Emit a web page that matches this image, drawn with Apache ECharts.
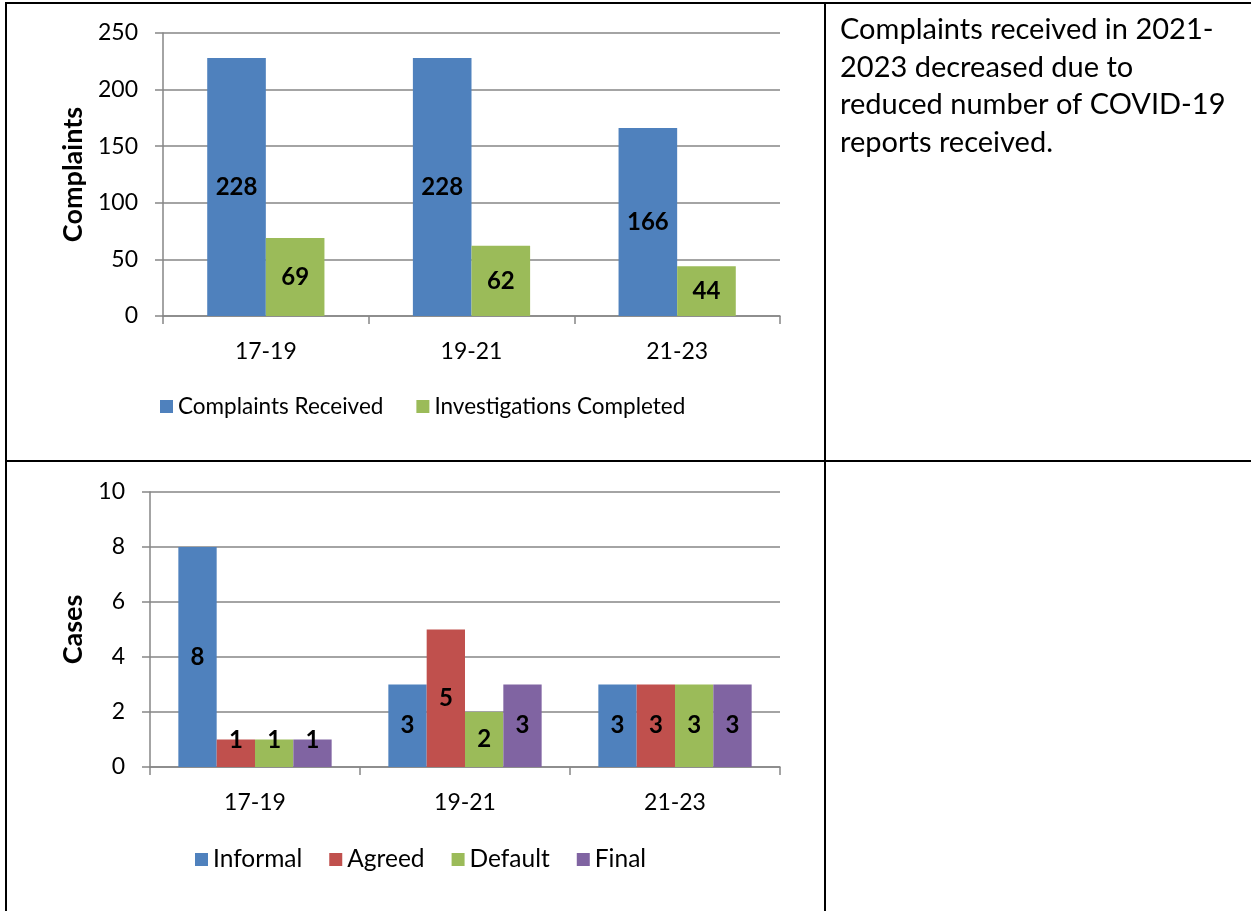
<!DOCTYPE html>
<html>
<head>
<meta charset="utf-8">
<script src="https://cdn.jsdelivr.net/npm/echarts@6/dist/echarts.min.js"></script>
<style>
  html, body { margin: 0; padding: 0; background: #fff; }
  #chart { width: 1251px; height: 911px; }
</style>
</head>
<body>
<div id="chart"></div>
<script>
// periods shared by both charts
const periods = ['17-19', '19-21', '21-23'];

// top chart
const complaintsTicks = [0, 50, 100, 150, 200, 250];
const complaintsReceived = [228, 228, 166];
const investigationsCompleted = [69, 62, 44];

// bottom chart
const casesTicks = [0, 2, 4, 6, 8, 10];
const informal = [8, 3, 3];
const agreed = [1, 5, 3];
const defaultCases = [1, 2, 3];
const finalCases = [1, 3, 3];

const noteLines = [
    'Complaints received in 2021-',
    '2023 decreased due to',
    'reduced number of COVID-19',
    'reports received.'
];

const FONT = 'Lato, "Noto Sans", sans-serif';
const GRAY = '#868686';
const colors = { blue: '#4F81BD', green: '#9BBB59', red: '#C0504D', purple: '#8064A2' };

const chart = echarts.init(document.getElementById('chart'));

function valueAxis(gridIndex, ticks, name, nameGap) {
    return {
        type: 'value',
        gridIndex,
        min: ticks[0],
        max: ticks[ticks.length - 1],
        interval: ticks[1] - ticks[0],
        name,
        nameLocation: 'middle',
        nameGap,
        nameTextStyle: { fontFamily: FONT, fontSize: 27, fontWeight: 'bold', color: '#000' },
        axisLine: { show: true, lineStyle: { color: GRAY, width: 1.5 } },
        axisTick: { show: true, length: 8, lineStyle: { color: GRAY, width: 1.5 } },
        axisLabel: { margin: 25, fontFamily: FONT, fontSize: 23, color: '#000' },
        splitLine: { lineStyle: { color: GRAY, width: 1.5 } }
    };
}

function catAxis(gridIndex) {
    return {
        type: 'category',
        gridIndex,
        data: periods,
        axisLine: { lineStyle: { color: GRAY, width: 1.5 } },
        axisTick: { show: true, length: 8, lineStyle: { color: GRAY, width: 1.5 } },
        axisLabel: { margin: 24, fontFamily: FONT, fontSize: 23, color: '#000' }
    };
}

const barLabel = { show: true, position: 'inside', fontFamily: FONT, fontSize: 24, fontWeight: 'bold', color: '#000' };

function bar(name, data, color, axisIdx, gap) {
    return {
        name,
        type: 'bar',
        xAxisIndex: axisIdx,
        yAxisIndex: axisIdx,
        // Excel lifts labels on very short bars
        data: data.map(v => (axisIdx === 1 && v < 2) ? { value: v, label: { offset: [0, -13] } } : v),
        barGap: 0,
        barCategoryGap: gap,
        itemStyle: { color },
        label: barLabel
    };
}

chart.setOption({
    animation: false,
    grid: [
        { left: 163, top: 33, right: 471, height: 283 },
        { left: 150, top: 492, right: 471, height: 275 }
    ],
    xAxis: [catAxis(0), catAxis(1)],
    yAxis: [
        valueAxis(0, complaintsTicks, 'Complaints', 76),
        valueAxis(1, casesTicks, 'Cases', 63)
    ],
    legend: [
        {
            data: ['Complaints Received', 'Investigations Completed'],
            left: 155, top: 390, itemWidth: 13, itemHeight: 13, itemGap: 33,
            icon: 'rect', textStyle: { fontFamily: FONT, fontSize: 22.5, color: '#000' }
        },
        {
            data: ['Informal', 'Agreed', 'Default', 'Final'],
            left: 190, top: 842, itemWidth: 13, itemHeight: 13, itemGap: 27,
            icon: 'rect', textStyle: { fontFamily: FONT, fontSize: 24.5, color: '#000' }
        }
    ],
    series: [
        bar('Complaints Received', complaintsReceived, colors.blue, 0, '43%'),
        bar('Investigations Completed', investigationsCompleted, colors.green, 0, '43%'),
        bar('Informal', informal, colors.blue, 1, '27%'),
        bar('Agreed', agreed, colors.red, 1, '27%'),
        bar('Default', defaultCases, colors.green, 1, '27%'),
        bar('Final', finalCases, colors.purple, 1, '27%')
    ],
    graphic: [
        // table borders
        { type: 'line', shape: { x1: 6, y1: 3, x2: 1251, y2: 3 }, style: { stroke: '#000', lineWidth: 2 } },
        { type: 'line', shape: { x1: 6, y1: 2, x2: 6, y2: 911 }, style: { stroke: '#000', lineWidth: 2 } },
        { type: 'line', shape: { x1: 825, y1: 2, x2: 825, y2: 911 }, style: { stroke: '#000', lineWidth: 2 } },
        { type: 'line', shape: { x1: 6, y1: 461, x2: 1251, y2: 461 }, style: { stroke: '#000', lineWidth: 2 } },
        {
            type: 'text', left: 840, top: 11,
            style: {
                text: noteLines.join('\n'),
                fontFamily: FONT, fontSize: 29, lineHeight: 37.5, fill: '#000'
            }
        }
    ]
});
</script>
</body>
</html>
